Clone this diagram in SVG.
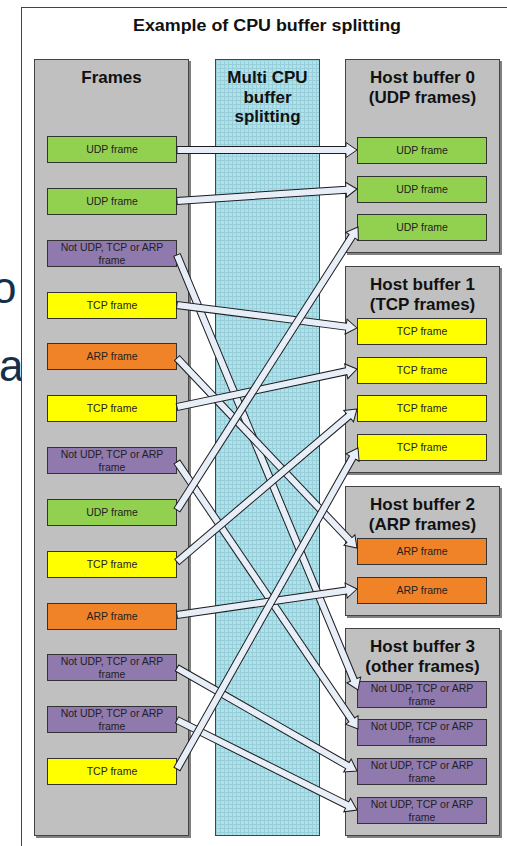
<svg xmlns="http://www.w3.org/2000/svg" width="507" height="846" viewBox="0 0 507 846">
<defs>
<pattern id="grid" width="4" height="4" patternUnits="userSpaceOnUse">
<rect width="4" height="4" fill="#b4e0e9"/>
<path d="M0 0.5H4M0.5 0V4" stroke="#96ceda" stroke-width="1"/>
</pattern>
</defs>
<style>
.panel{fill:#c0c0c0;stroke:#444;stroke-width:1}
.shadow{fill:#808080}
.hdr{font-family:"Liberation Sans",Arial,sans-serif;font-weight:bold;font-size:17px;fill:#111;text-anchor:middle}
.ttl{font-family:"Liberation Sans",Arial,sans-serif;font-weight:bold;font-size:16px;fill:#111;text-anchor:middle}
.ft{font-family:"Liberation Sans",Arial,sans-serif;font-size:10.5px;fill:#222;text-anchor:middle}
.fr{stroke:#333;stroke-width:1}
.udp{fill:#92d050}.tcp{fill:#ffff00}.arp{fill:#f08228}.oth{fill:#8f79ad}
.arw{fill:#e8eef8;stroke:#1e1e1e;stroke-width:1;stroke-linejoin:miter}
.bg{font-family:"Liberation Sans",Arial,sans-serif;font-size:44px;fill:#14304a}
</style>
<rect width="507" height="846" fill="#fff"/>
<text class="bg" x="-8" y="303">o</text>
<text class="bg" x="-1" y="381">a</text>
<rect x="21.5" y="7.5" width="600" height="900" fill="#fff" stroke="#444" stroke-width="1"/>
<text class="ttl" x="267" y="31" textLength="268" lengthAdjust="spacingAndGlyphs">Example of CPU buffer splitting</text>

<g id="frames-panel">
<rect class="shadow" x="36" y="61" width="155" height="777"/>
<rect class="panel" x="34.5" y="59.5" width="154" height="776"/>
<text class="hdr" x="111.5" y="83">Frames</text>
</g>
<g id="splitter-panel">
<rect x="215.5" y="59.5" width="104" height="776" fill="url(#grid)" stroke="#444" stroke-width="1"/>
<text class="hdr" x="267.5" y="83">Multi CPU</text>
<text class="hdr" x="267.5" y="103">buffer</text>
<text class="hdr" x="267.5" y="122">splitting</text>
</g>
<g id="hb0">
<rect class="shadow" x="347" y="61" width="155" height="194"/>
<rect class="panel" x="345.5" y="59.5" width="154" height="193"/>
<text class="hdr" x="422.5" y="83">Host buffer 0</text>
<text class="hdr" x="422.5" y="103">(UDP frames)</text>
</g>
<g id="hb1">
<rect class="shadow" x="347" y="268" width="155" height="207"/>
<rect class="panel" x="345.5" y="266.5" width="154" height="206"/>
<text class="hdr" x="422.5" y="290">Host buffer 1</text>
<text class="hdr" x="422.5" y="310">(TCP frames)</text>
</g>
<g id="hb2">
<rect class="shadow" x="347" y="488" width="155" height="130"/>
<rect class="panel" x="345.5" y="486.5" width="154" height="129"/>
<text class="hdr" x="422.5" y="510">Host buffer 2</text>
<text class="hdr" x="422.5" y="530">(ARP frames)</text>
</g>
<g id="hb3">
<rect class="shadow" x="347" y="630" width="155" height="208"/>
<rect class="panel" x="345.5" y="628.5" width="154" height="207"/>
<text class="hdr" x="422.5" y="652">Host buffer 3</text>
<text class="hdr" x="422.5" y="672">(other frames)</text>
</g>

<g id="left-frames">
<g id="l1"><rect class="fr udp" x="47.5" y="136.5" width="129" height="26"/><text class="ft" x="112" y="153">UDP frame</text></g>
<g id="l2"><rect class="fr udp" x="47.5" y="188.5" width="129" height="26"/><text class="ft" x="112" y="205">UDP frame</text></g>
<g id="l3"><rect class="fr oth" x="47.5" y="240.5" width="129" height="26"/><text class="ft" x="112" y="251">Not UDP, TCP or ARP</text><text class="ft" x="112" y="264">frame</text></g>
<g id="l4"><rect class="fr tcp" x="47.5" y="292.5" width="129" height="26"/><text class="ft" x="112" y="309">TCP frame</text></g>
<g id="l5"><rect class="fr arp" x="47.5" y="343.5" width="129" height="26"/><text class="ft" x="112" y="360">ARP frame</text></g>
<g id="l6"><rect class="fr tcp" x="47.5" y="395.5" width="129" height="26"/><text class="ft" x="112" y="412">TCP frame</text></g>
<g id="l7"><rect class="fr oth" x="47.5" y="447.5" width="129" height="26"/><text class="ft" x="112" y="458">Not UDP, TCP or ARP</text><text class="ft" x="112" y="471">frame</text></g>
<g id="l8"><rect class="fr udp" x="47.5" y="499.5" width="129" height="26"/><text class="ft" x="112" y="516">UDP frame</text></g>
<g id="l9"><rect class="fr tcp" x="47.5" y="551.5" width="129" height="26"/><text class="ft" x="112" y="568">TCP frame</text></g>
<g id="l10"><rect class="fr arp" x="47.5" y="603.5" width="129" height="26"/><text class="ft" x="112" y="620">ARP frame</text></g>
<g id="l11"><rect class="fr oth" x="47.5" y="654.5" width="129" height="26"/><text class="ft" x="112" y="665">Not UDP, TCP or ARP</text><text class="ft" x="112" y="678">frame</text></g>
<g id="l12"><rect class="fr oth" x="47.5" y="706.5" width="129" height="26"/><text class="ft" x="112" y="717">Not UDP, TCP or ARP</text><text class="ft" x="112" y="730">frame</text></g>
<g id="l13"><rect class="fr tcp" x="47.5" y="758.5" width="129" height="26"/><text class="ft" x="112" y="775">TCP frame</text></g>
</g>

<g id="right-frames">
<g id="r0a"><rect class="fr udp" x="357.5" y="137.5" width="129" height="26"/><text class="ft" x="422" y="154">UDP frame</text></g>
<g id="r0b"><rect class="fr udp" x="357.5" y="176.5" width="129" height="26"/><text class="ft" x="422" y="193">UDP frame</text></g>
<g id="r0c"><rect class="fr udp" x="357.5" y="214.5" width="129" height="26"/><text class="ft" x="422" y="231">UDP frame</text></g>
<g id="r1a"><rect class="fr tcp" x="357.5" y="318.5" width="129" height="26"/><text class="ft" x="422" y="335">TCP frame</text></g>
<g id="r1b"><rect class="fr tcp" x="357.5" y="357.5" width="129" height="26"/><text class="ft" x="422" y="374">TCP frame</text></g>
<g id="r1c"><rect class="fr tcp" x="357.5" y="395.5" width="129" height="26"/><text class="ft" x="422" y="412">TCP frame</text></g>
<g id="r1d"><rect class="fr tcp" x="357.5" y="434.5" width="129" height="26"/><text class="ft" x="422" y="451">TCP frame</text></g>
<g id="r2a"><rect class="fr arp" x="357.5" y="538.5" width="129" height="26"/><text class="ft" x="422" y="555">ARP frame</text></g>
<g id="r2b"><rect class="fr arp" x="357.5" y="577.5" width="129" height="26"/><text class="ft" x="422" y="594">ARP frame</text></g>
<g id="r3a"><rect class="fr oth" x="357.5" y="681.5" width="129" height="26"/><text class="ft" x="422" y="692">Not UDP, TCP or ARP</text><text class="ft" x="422" y="705">frame</text></g>
<g id="r3b"><rect class="fr oth" x="357.5" y="719.5" width="129" height="26"/><text class="ft" x="422" y="730">Not UDP, TCP or ARP</text><text class="ft" x="422" y="743">frame</text></g>
<g id="r3c"><rect class="fr oth" x="357.5" y="758.5" width="129" height="26"/><text class="ft" x="422" y="769">Not UDP, TCP or ARP</text><text class="ft" x="422" y="782">frame</text></g>
<g id="r3d"><rect class="fr oth" x="357.5" y="797.5" width="129" height="26"/><text class="ft" x="422" y="808">Not UDP, TCP or ARP</text><text class="ft" x="422" y="821">frame</text></g>
</g>

<g id="connectors">
<polygon class="arw" transform="translate(357,150) rotate(0)" points="0,0 -11,-7.5 -11,-3.5 -180,-3.5 -180,3.5 -11,3.5 -11,7.5"/>
<polygon class="arw" transform="translate(357,189) rotate(-3.81)" points="0,0 -11,-7.5 -11,-3.5 -180.4,-3.5 -180.4,3.5 -11,3.5 -11,7.5"/>
<polygon class="arw" transform="translate(358,690) rotate(67.41)" points="0,0 -11,-7.5 -11,-3.5 -471.2,-3.5 -471.2,3.5 -11,3.5 -11,7.5"/>
<polygon class="arw" transform="translate(357,328) rotate(7.28)" points="0,0 -11,-7.5 -11,-3.5 -181.5,-3.5 -181.5,3.5 -11,3.5 -11,7.5"/>
<polygon class="arw" transform="translate(357,548) rotate(46.55)" points="0,0 -11,-7.5 -11,-3.5 -261.7,-3.5 -261.7,3.5 -11,3.5 -11,7.5"/>
<polygon class="arw" transform="translate(357,369) rotate(-11.92)" points="0,0 -11,-7.5 -11,-3.5 -184,-3.5 -184,3.5 -11,3.5 -11,7.5"/>
<polygon class="arw" transform="translate(358,729) rotate(55.87)" points="0,0 -11,-7.5 -11,-3.5 -322.6,-3.5 -322.6,3.5 -11,3.5 -11,7.5"/>
<polygon class="arw" transform="translate(358,227) rotate(-57.40)" points="0,0 -11,-7.5 -11,-3.5 -335.9,-3.5 -335.9,3.5 -11,3.5 -11,7.5"/>
<polygon class="arw" transform="translate(357,409) rotate(-40.36)" points="0,0 -11,-7.5 -11,-3.5 -236.2,-3.5 -236.2,3.5 -11,3.5 -11,7.5"/>
<polygon class="arw" transform="translate(357,589) rotate(-8.22)" points="0,0 -11,-7.5 -11,-3.5 -181.9,-3.5 -181.9,3.5 -11,3.5 -11,7.5"/>
<polygon class="arw" transform="translate(357,771) rotate(29.78)" points="0,0 -11,-7.5 -11,-3.5 -207.4,-3.5 -207.4,3.5 -11,3.5 -11,7.5"/>
<polygon class="arw" transform="translate(357,810) rotate(26.57)" points="0,0 -11,-7.5 -11,-3.5 -201.3,-3.5 -201.3,3.5 -11,3.5 -11,7.5"/>
<polygon class="arw" transform="translate(358,448) rotate(-60.58)" points="0,0 -11,-7.5 -11,-3.5 -368.5,-3.5 -368.5,3.5 -11,3.5 -11,7.5"/>
</g>
</svg>
